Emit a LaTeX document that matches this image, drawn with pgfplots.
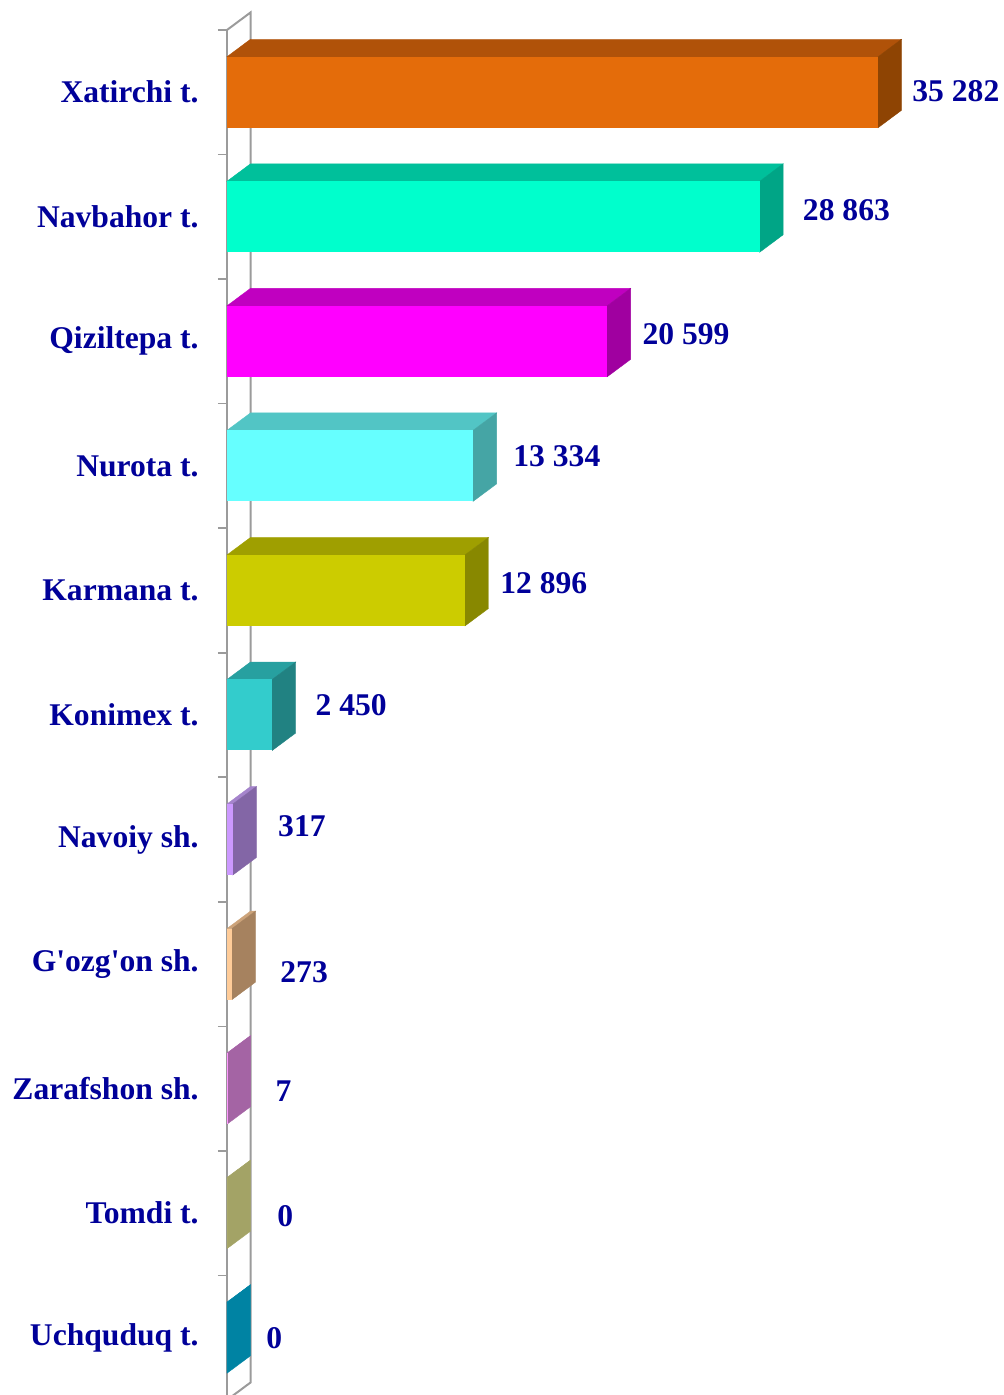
\documentclass[border=0pt]{standalone}
\usepackage{fontspec}
\setmainfont{Liberation Serif}
\usepackage{pgfplots}
\usepackage{pgfplotstable}
\pgfplotsset{compat=1.18}

\definecolor{navy}{RGB}{0,0,153}
\definecolor{wall}{RGB}{155,155,155}
% front / top / side colours of each bar, row 0 = top bar
\definecolor{f0}{HTML}{E46C0A}\definecolor{t0}{HTML}{B05209}\definecolor{s0}{HTML}{8E4403}
\definecolor{f1}{HTML}{00FFCC}\definecolor{t1}{HTML}{00C09B}\definecolor{s1}{HTML}{00A586}
\definecolor{f2}{HTML}{FF00FF}\definecolor{t2}{HTML}{C000C0}\definecolor{s2}{HTML}{A000A0}
\definecolor{f3}{HTML}{66FFFF}\definecolor{t3}{HTML}{52C5C5}\definecolor{s3}{HTML}{45A5A5}
\definecolor{f4}{HTML}{CCCC00}\definecolor{t4}{HTML}{9F9F00}\definecolor{s4}{HTML}{888800}
\definecolor{f5}{HTML}{33CCCC}\definecolor{t5}{HTML}{27A0A0}\definecolor{s5}{HTML}{218282}
\definecolor{f6}{HTML}{CC99FF}\definecolor{t6}{HTML}{A584CC}\definecolor{s6}{HTML}{8366A6}
\definecolor{f7}{HTML}{FFCC99}\definecolor{t7}{HTML}{CCA37A}\definecolor{s7}{HTML}{A6825F}
\definecolor{f8}{HTML}{FF99FF}\definecolor{t8}{HTML}{C77AC7}\definecolor{s8}{HTML}{A464A4}
\definecolor{f9}{HTML}{CCCC80}\definecolor{t9}{HTML}{B5B573}\definecolor{s9}{HTML}{A3A366}
\definecolor{f10}{HTML}{00A3CC}\definecolor{t10}{HTML}{0090B5}\definecolor{s10}{HTML}{0083A3}

\newcommand\labfont{\fontsize{15.8}{18}\selectfont\bfseries}

% value, label offset (pt) right of bar end, vertical offset (pt)
\pgfplotstableread{
name      value lx   ly
Xatirchi  35282 17   0.75
Navbahor  28863 21.5 3.5
Qiziltepa 20599 17.5 3.75
Nurota    13334 20   5
Karmana   12896 17.5 3.75
Konimex   2450  21.5 5
Navoiy    317   22.5 6.5
Gozgon    273   24   -4.25
Zarafshon 7     24   -1.5
Tomdi     0     25   -1.5
Uchquduq  0     19.5 0
}\bars

\def\dx{1274}   % depth in x units
\def\dy{0.1404} % depth in y units
\def\hh{0.285}  % half bar thickness

\begin{document}
\begin{tikzpicture}
\begin{axis}[
  scale only axis,
  width=387.5pt, height=685pt,
  xmin=0, xmax=42000, ymin=-0.5, ymax=10.5,
  axis x line=none, axis y line*=left,
  clip=false,
  ytick={0,...,10},
  yticklabels={Uchquduq t., Tomdi t., Zarafshon sh., G\textquotesingle ozg\textquotesingle on sh., Navoiy sh., Konimex t., Karmana t., Nurota t., Qiziltepa t., Navbahor t., Xatirchi t.},
  major tick length=0pt,
  minor ytick={-0.5,0.5,1.5,2.5,3.5,4.5,5.5,6.5,7.5,8.5,9.5,10.5},
  minor tick length=4.5pt,
  tick align=outside,
  y axis line style={draw=wall, line width=1pt},
  every tick/.style={draw=wall, line width=0.8pt},
  yticklabel style={font=\labfont, text=navy, anchor=east, inner sep=0pt, xshift=-14pt},
  nodes near coords style={font=\labfont, text=navy, anchor=west, inner sep=0pt},
  /pgf/number format/.cd, 1000 sep={\ }, assume math mode=true,
]
\coordinate (O) at (axis cs:0,-0.5);
% back edge of the wall
\addplot[wall, line width=1pt, forget plot] coordinates {(0,10.5) (1274,10.6404) (1274,-0.3596) (0,-0.5)};

\pgfplotsinvokeforeach{0,...,10}{
  \pgfplotstablegetelem{#1}{value}\of\bars \let\vv\pgfplotsretval
  \pgfplotstablegetelem{#1}{lx}\of\bars \let\lx\pgfplotsretval
  \pgfplotstablegetelem{#1}{ly}\of\bars \let\ly\pgfplotsretval
  \pgfmathsetmacro\yy{10-#1}
  \pgfmathsetmacro\ylo{\yy-\hh}
  \pgfmathsetmacro\yhi{\yy+\hh}
  \pgfmathsetmacro\ybk{\yy+\hh+\dy}
  \pgfmathsetmacro\ylb{\yy-\hh+\dy}
  \edef\vd{\the\numexpr\vv+\dx\relax}
  \edef\cube{%
    \noexpand\addplot[fill=t#1, draw=t#1, line width=0.2pt, forget plot]
      coordinates {(0,\yhi) (\vv,\yhi) (\vd,\ybk) (\dx,\ybk)} -- cycle;
    \noexpand\addplot[fill=s#1, draw=s#1, line width=0.2pt, forget plot]
      coordinates {(\vv,\ylo) (\vd,\ylb) (\vd,\ybk) (\vv,\yhi)} -- cycle;
    \noexpand\addplot[xbar, bar shift=0pt, bar width=0.57, fill=f#1, draw=none,
      point meta=x, nodes near coords,
      every node near coord/.append style={xshift=\lx pt, yshift=\ly pt}]
      coordinates {(\vv,\yy)};
  }\cube
}
\end{axis}
\pgfresetboundingbox
\path[use as bounding box] ([shift={(-113.5pt,2.5pt)}]O) rectangle ([shift={(388.5pt,700pt)}]O);
\end{tikzpicture}
\end{document}
